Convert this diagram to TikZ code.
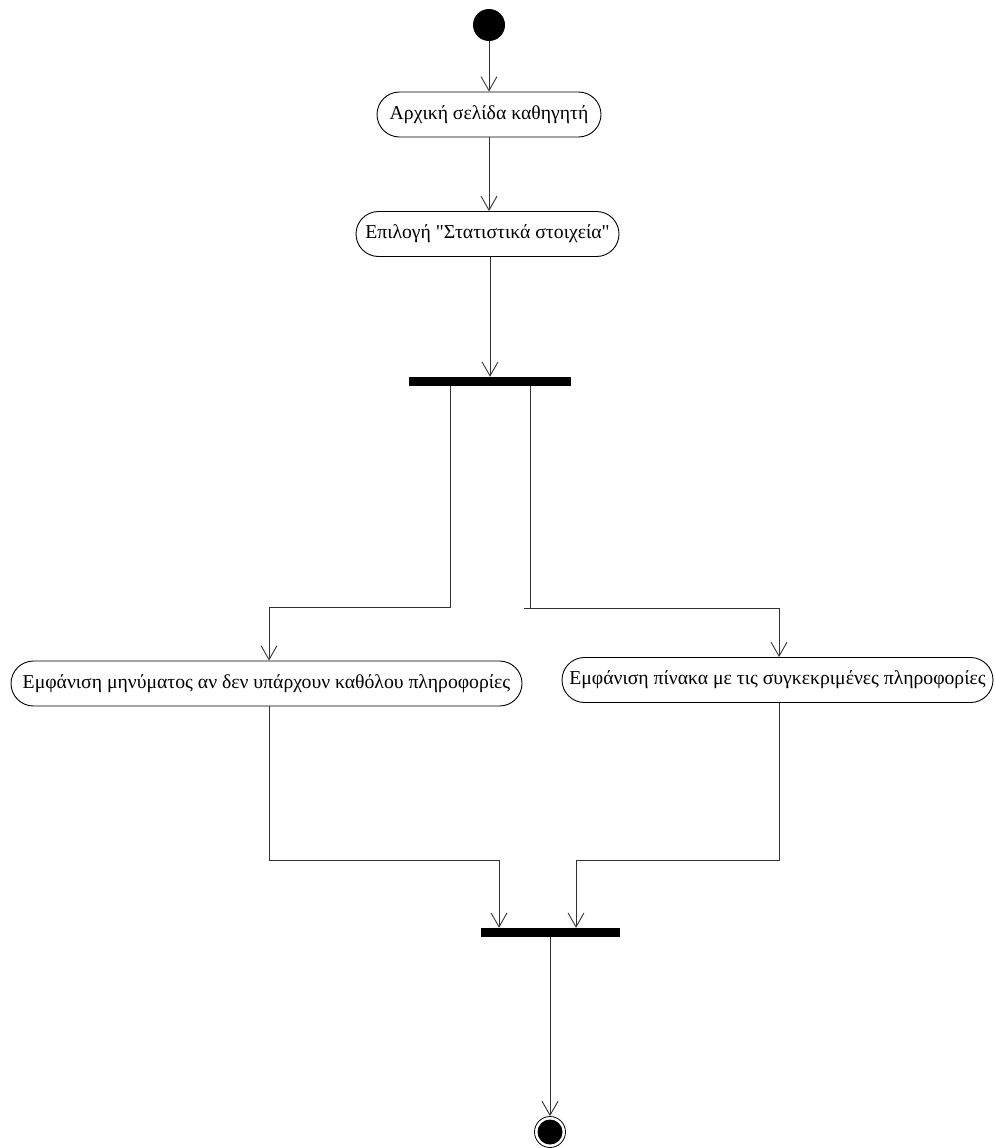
\documentclass[tikz,border=0pt]{standalone}
\usepackage{fontspec}
\setmainfont{Liberation Serif}
\usetikzlibrary{arrows.meta}
\definecolor{linegray}{RGB}{50,50,50}
\begin{document}
\begin{tikzpicture}[x=1pt,y=-1pt,
  action/.style={draw=black,line width=0.9pt,rounded corners=22.5pt,fill=white,
    minimum height=45pt,inner sep=0pt,font=\fontsize{19.7}{23}\selectfont},
  syncbar/.style={fill=black,draw=none,inner sep=0pt,minimum height=9pt},
  flow/.style={draw=linegray,line width=1pt,
    -{Straight Barb[length=14pt,width=16pt,line width=0.9pt]}},
  link/.style={draw=linegray,line width=1pt}]
\useasboundingbox (0,0) rectangle (995,1148);

% initial and final states
\node[circle,fill=black,minimum size=32pt,inner sep=0pt] (start) at (489,25) {};
\node[circle,draw=black,line width=0.8pt,fill=white,minimum size=31pt,inner sep=0pt] (end) at (550,1132) {};
\node[circle,fill=black,minimum size=25pt,inner sep=0pt] (endcore) at (end) {};

% activities
\node[action,minimum width=224pt] (home) at (489,114.5) {Αρχική σελίδα καθηγητή};
\node[action,minimum width=263pt] (choose) at (487.5,234) {Επιλογή \textquotedbl Στατιστικά στοιχεία\textquotedbl};
\node[action,minimum width=511pt] (msg) at (266.5,683.5) {Εμφάνιση μηνύματος αν δεν υπάρχουν καθόλου πληροφορίες};
\node[action,minimum width=431pt] (table) at (777.5,680) {Εμφάνιση πίνακα με τις συγκεκριμένες πληροφορίες};

% fork and join bars
\node[syncbar,minimum width=162pt] (fork) at (490,381.5) {};
\node[syncbar,minimum width=139pt] (join) at (550.5,932.5) {};

% bend points
\coordinate (splitL) at (450,607);
\coordinate (splitR) at (530,608);
\coordinate (mergeL) at (499,860);
\coordinate (mergeR) at (576,860);

% flow
\draw[flow] (start) -- (home);
\draw[flow] (home.south) -- (home.south |- choose.north);
\draw[flow] (fork.north |- choose.south) -- (fork.north);

\draw[flow] (fork.south -| splitL) -- (splitL) -| ([xshift=2.5pt]msg.north);
\draw[link] (fork.south -| splitR) -- (splitR);
\draw[flow] ([xshift=-6pt]splitR) -| ([xshift=1.5pt]table.north);

\draw[flow] ([xshift=2.5pt]msg.south) |- (mergeL) -- (join.north -| mergeL);
\draw[flow] ([xshift=1.5pt]table.south) |- (mergeR) -- (join.north -| mergeR);
\draw[flow] (join.south -| end) -- (end.north);
\end{tikzpicture}
\end{document}
